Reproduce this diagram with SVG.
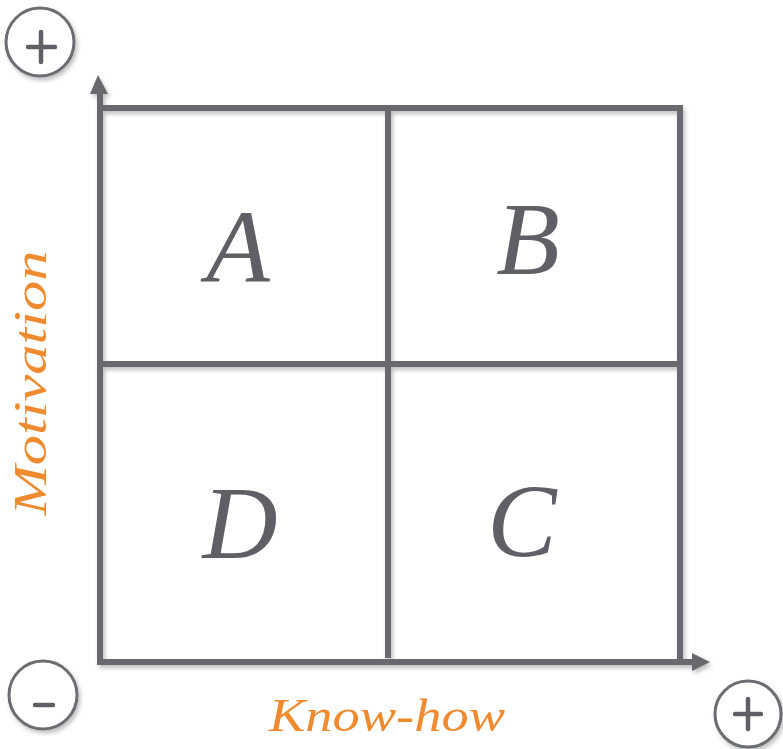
<svg xmlns="http://www.w3.org/2000/svg" width="783" height="749" viewBox="0 0 783 749">
<defs>
<style>
.ln{stroke:#67696e;stroke-width:6;fill:none;stroke-linecap:square}
.circ{stroke:#6b6d72;stroke-width:3;fill:#fff}
.sign{stroke:#5f6166;stroke-width:4.5;stroke-linecap:round;fill:none}
.big{font-family:"Liberation Serif","DejaVu Serif",serif;font-style:italic;font-size:104px;fill:#5e6065;text-anchor:middle}
.ax{font-family:"Liberation Serif","DejaVu Serif",serif;font-style:italic;font-size:46px;fill:#ef8a2e;text-anchor:middle}
</style>
<filter id="sh" x="-10%" y="-10%" width="120%" height="120%">
<feDropShadow dx="2" dy="3" stdDeviation="2" flood-color="#000" flood-opacity="0.25"/>
</filter>
</defs>
<g id="connectors" filter="url(#sh)">
<line class="ln" x1="100" y1="92" x2="100" y2="661"/>
<polygon points="90,94 98,75 108,94" fill="#67696e"/>
<line class="ln" x1="100" y1="662" x2="693" y2="662"/>
<polygon points="692,653 710,662 692,671" fill="#67696e"/>
<line class="ln" x1="100" y1="108" x2="680" y2="108"/>
<line class="ln" x1="680" y1="108" x2="680" y2="660"/>
<line class="ln" x1="388" y1="108" x2="388" y2="655"/>
<line class="ln" x1="100" y1="364" x2="680" y2="364"/>
</g>
<g id="plus-top" filter="url(#sh)">
<circle class="circ" cx="40" cy="42" r="34"/>
<path class="sign" d="M28,47H55M41,32V62"/>
</g>
<g id="minus" filter="url(#sh)">
<circle class="circ" cx="43" cy="695" r="34"/>
<path class="sign" d="M35,705H53"/>
</g>
<g id="plus-right" filter="url(#sh)">
<circle class="circ" cx="748" cy="714" r="33"/>
<path class="sign" d="M735,714H761M748,699V729"/>
</g>
<g id="A"><text class="big" x="238" y="282">A</text></g>
<g id="B"><text class="big" x="528" y="274">B</text></g>
<g id="D"><text class="big" x="240" y="558">D</text></g>
<g id="C"><text class="big" x="522" y="556">C</text></g>
<g id="motivation"><text class="ax" transform="translate(46,383) rotate(-90)" x="0" y="0" textLength="265" lengthAdjust="spacingAndGlyphs">Motivation</text></g>
<g id="knowhow"><text class="ax" x="387" y="731" textLength="236" lengthAdjust="spacingAndGlyphs">Know-how</text></g>
</svg>
